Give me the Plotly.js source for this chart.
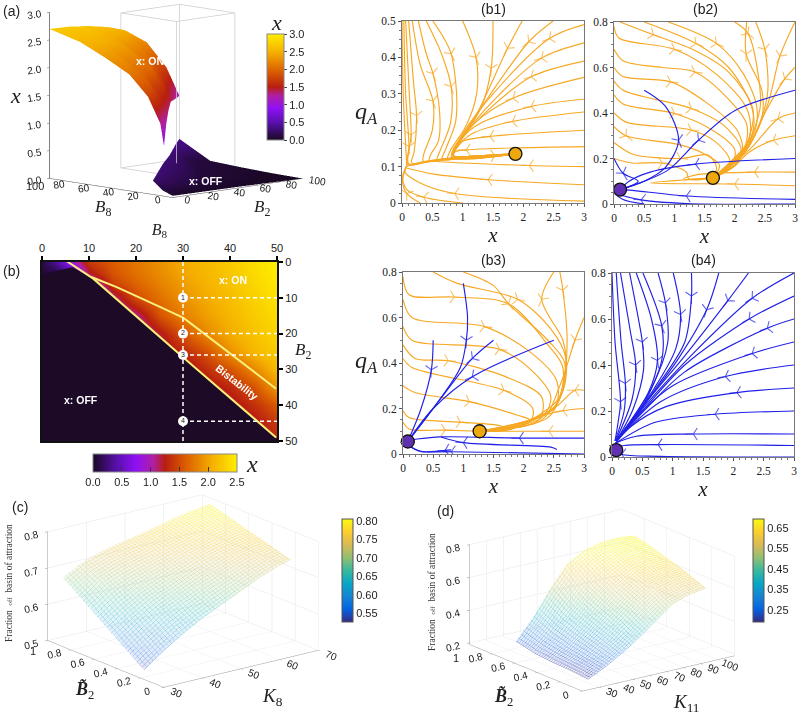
<!DOCTYPE html>
<html><head><meta charset="utf-8">
<script src="https://cdn.plot.ly/plotly-3.0.1.min.js"></script>
<style>html,body{margin:0;padding:0;background:#fff}#g{width:800px;height:716px}</style></head>
<body><div id="g"></div>
<script>
// ---------- panel (a) data ----------
const onB8=[7,10,20,35,55,75,100, 100,100,100,100,100,100,100, 20,35,50,65,80, 30,50,50,75,75,75,60,90,90];
const onB2=[0,0,0,0,0,0,0, 15,30,45,58,75,90,100, 14,30,46,62,79, 10,10,25,15,35,55,40,40,70];
const onX=[.9,1.3,1.75,2.1,2.34,2.55,2.7, 2.69,2.65,2.58,2.48,2.2,1.7,1.15, 1.2,1.35,1.4,1.35,1.25, 1.9,2.25,2.0,2.5,2.35,1.95,2.0,2.45,1.95];
const offB8=[0,8,16,0,100,30,50,70,90,10,30,50,75,25,50,85,0,50,75,25];
const offB2=[0,0,0,100,100,17,40,64,88,30,50,65,85,35,55,95,50,100,100,100];
const offX=[.03,.1,.25,0,.37,.28,.3,.3,.36,.05,.08,.1,.12,.15,.2,.25,.02,.03,.06,.01];
const boxB2=[55,100,100,55,55,55,100,100,55,55,55,55,100,100,100,100];
const boxB8=[55,55,100,100,55,55,55,100,100,55,100,100,100,100,55,55];
const boxZ=[0,0,0,0,0,2.8,2.8,2.8,2.8,2.8,2.8,0,0,2.8,2.8,0];
// ---------- panel (b) data ----------
const heatB8=[0,3,6,10,15,20,25,30,35,40,45,50];
const heatB2=[0,3,6,10,15,20,25,30,35,40,45,50];
const heatX=[
[.1,.35,.8,1.4,1.6,1.75,1.9,2.05,2.15,2.25,2.38,2.5],
[.05,.08,.25,1.2,1.55,1.72,1.87,2.02,2.13,2.23,2.36,2.48],
[.05,.05,.05,.8,1.45,1.65,1.82,1.97,2.1,2.2,2.33,2.45],
[.05,.05,.05,.05,1.05,1.5,1.72,1.9,2.05,2.17,2.3,2.42],
[.05,.05,.05,.05,.9,1.05,1.55,1.8,1.98,2.12,2.25,2.37],
[.05,.05,.05,.05,.9,.9,1.2,1.55,1.85,2.05,2.2,2.32],
[.05,.05,.05,.05,.9,.9,1.05,1.3,1.55,1.9,2.12,2.27],
[.05,.05,.05,.05,.9,.9,1.0,1.1,1.35,1.55,1.85,2.15],
[.05,.05,.05,.05,.9,.9,1.0,1.1,1.15,1.3,1.55,1.95],
[.05,.05,.05,.05,.9,.9,1.0,1.1,1.15,1.15,1.35,1.6],
[.05,.05,.05,.05,.9,.9,1.0,1.1,1.15,1.15,1.2,1.4],
[.05,.05,.05,.05,.9,.9,1.0,1.1,1.15,1.15,1.2,1.3]];
const offEdgeB8=[6.5,10.9,30.8,50,50,0,0,3];
const offEdgeB2=[1.5,4.65,27.5,49.4,50,50,4,2.5];
const lowerB8=[4.5,10.9,30.8,49.8];
const lowerB2=[-.9,4.65,27.5,49];
const upperB8=[10.5,15.9,24.4,30,32.2,49.8];
const upperB2=[4.2,7,12.1,15.5,17.7,35.4];
const dashV=[[30,30],[0,50]];
const dashH=[[[30,50],[10,10]],[[30,50],[20,20]],[[30,50],[26,26]],[[30,50],[44.5,44.5]]];
const markB8=[30,30,30,30];
const markB2=[10,20,26,44.5];
const markText=['1','2','3','4'];
// ---------- streamlines: [arrowPointIndex, x0,y0, x1,y1, ...] ----------
const b1Orange=[
[-1,0,.5,.02,.3,.06,.16,.08,.1],
[2,.03,.5,.06,.3,.115,.155,.1,.105,.4,.113,.9,.125,1.87,.135],
[2,.06,.5,.12,.3,.15,.187,.11,.108,.45,.114,.9,.125,1.87,.135],
[2,.11,.5,.19,.33,.24,.24,.2,.14,.16,.11,.5,.115,.9,.125,1.87,.135],
[2,.17,.5,.3,.38,.51,.28,.5,.2,.36,.135,.35,.115,.6,.117,.9,.125,1.87,.135],
[2,.27,.5,.4,.41,.51,.356,.62,.25,.6,.17,.48,.135,.45,.115,.7,.118,1.87,.135],
[2,.4,.5,.65,.41,.81,.32,.8,.22,.62,.14,.58,.12,.8,.12,1.87,.135],
[2,.51,.5,.7,.45,.81,.41,.9,.3,.88,.22,.7,.14,.66,.12,.9,.122,1.87,.135],
[1,1,.5,1.22,.4,1.23,.3,1.05,.21,.8,.145,.75,.12,.9,.123,1.87,.135],
[1,1.5,.5,1.47,.37,1.3,.26,1.05,.195,.85,.15,.82,.125,1.87,.135],
[1,1.98,.5,1.74,.425,1.25,.25,1,.18,.85,.14,.85,.125,1.87,.135],
[1,2.49,.5,2.09,.443,1.3,.26,.95,.17,.84,.13,1.87,.135],
[1,3,.49,2.43,.452,1.5,.3,1,.19,.85,.14,.86,.126,1.87,.135],
[1,3,.44,2.3,.398,1.5,.28,1,.18,.85,.13,1.87,.135],
[1,3,.39,2.13,.347,1.45,.26,1,.18,.85,.13,1.87,.135],
[1,3,.345,1.83,.288,1.2,.22,.9,.16,.85,.13,1.87,.135],
[1,3,.285,2.13,.265,1.2,.21,.9,.155,.85,.13,1.87,.135],
[1,3,.25,1.82,.224,1.15,.19,.9,.15,.85,.13,1.87,.135],
[1,3,.2,1.45,.183,1,.17,.88,.15,.85,.13,1.87,.135],
[1,3,.155,1.06,.146,.87,.14,.85,.128,1.87,.135],
[1,3,.1,2.1,.103,1,.11,.55,.114],
[1,3,.05,1.42,.064,.5,.08,.07,.096],
[1,3,.005,.87,.026,.3,.055,.05,.085,.07,.1],
[1,1,0,.36,.016,.08,.037,.01,.07,.07,.1],
[1,.3,0,.08,.026,.01,.06,.07,.1],
[3,.07,.1,.3,.112,.9,.125,1.53,.13,1.87,.135]];
const b2Orange=[
[1,.1,.8,.65,.744,1.3,.68,1.9,.58,2.3,.42,2.25,.3,2,.17,1.64,.115],
[1,.5,.8,1.36,.705,1.9,.6,2.25,.45,2.32,.35,2.15,.22,1.64,.115],
[1,.9,.8,1.7,.705,2.15,.57,2.37,.42,2.3,.3,1.64,.115],
[2,0,.78,.08,.73,1,.68,1.7,.57,2.2,.42,2.25,.3,2,.17,1.64,.115],
[3,0,.68,.15,.63,.8,.6,1.34,.58,1.9,.46,2.2,.35,2.15,.24,1.64,.115],
[2,0,.6,.15,.56,.94,.537,1.56,.44,2.05,.32,2.12,.22,1.64,.115],
[2,0,.54,.15,.5,1.28,.42,1.8,.35,2.1,.25,2.05,.18,1.64,.115],
[2,0,.48,.15,.44,1,.398,1.6,.33,2,.24,1.95,.17,1.64,.115],
[2,0,.4,.2,.36,1.28,.325,1.7,.27,1.92,.19,1.8,.14,1.64,.115],
[1,0,.34,.2,.3,1.1,.26,1.5,.22,1.75,.17,1.64,.115],
[2,0,.27,.3,.22,1.1,.2,1.56,.215,1.7,.16,1.64,.115],
[2,0,.2,.3,.18,.8,.18,1.2,.14,1.24,.11,1.64,.115],
[1,2,.8,2.22,.75,2.4,.55,2.42,.42,2.2,.26,1.64,.115],
[1,2.2,.8,2.19,.66,2.45,.5,2.45,.38,2.2,.25,1.64,.115],
[1,2.35,.8,2.5,.68,2.55,.5,2.45,.38,2.2,.24,1.64,.115],
[1,3,.8,2.75,.65,2.55,.44,2.2,.24,1.64,.115],
[1,3,.6,2.83,.55,2.5,.4,2.15,.22,1.64,.115],
[1,3,.4,2.72,.375,2.25,.24,1.64,.115],
[1,3,.3,2.64,.28,2.25,.23,2,.17,1.64,.115],
[1,3,.14,2.33,.14,1.4,.13,1.15,.11,1.64,.115],
[1,3,.08,2,.088,.6,.092,1.64,.115]];
const b2Blue=[
[2,.5,.5,.85,.43,1.07,.28,.85,.16,.5,.1,.1,.063],
[2,3,.5,2,.41,1.4,.28,.9,.15,.5,.1,.1,.063],
[1,3,.2,1.35,.175,.6,.14,.25,.1,.1,.063],
[1,0,.2,.15,.135,.4,.1,.1,.063],
[1,3,.02,1.2,.035,.3,.06,.1,.063],
[2,3,0,1.2,.002,.45,.018,.05,.05,.1,.063],
[-1,.5,0,.15,.02,.04,.045,.1,.063]];
const b3Orange=[
[2,.5,.8,.9,.75,1.9,.68,2.45,.55,2.7,.42,2.6,.25,1.8,.11,1.27,.1],
[2,1,.8,1.5,.74,1.75,.66,2.4,.5,2.68,.4,2.55,.22,1.8,.11,1.27,.1],
[2,0,.78,.1,.7,.85,.69,1.75,.66,2.4,.48,2.65,.38,2.5,.2,1.27,.1],
[2,0,.68,.15,.6,1.35,.56,2.1,.45,2.55,.32,2.5,.2,1.27,.1],
[2,0,.56,.15,.5,1.6,.46,2.2,.35,2.45,.25,2.3,.16,1.27,.1],
[2,0,.48,.2,.42,.75,.41,1.7,.34,2.3,.25,2.25,.15,1.27,.1],
[2,0,.42,.15,.38,1.67,.28,2.15,.2,2.1,.14,1.27,.1],
[2,0,.3,.2,.27,1.1,.23,1.9,.17,2.1,.15,1.27,.1],
[2,0,.19,.1,.16,.95,.14,1.6,.125,1.7,.11,1.27,.1],
[2,0,.14,.1,.11,.7,.105,1.27,.1],
[1,2.5,.8,2.3,.68,2.65,.5,2.7,.4,2.5,.2,1.27,.1],
[1,2.6,.8,2.65,.72,2.72,.5,2.65,.3,2.4,.16,1.27,.1],
[1,3,.1,2.42,.1,1.27,.1],
[1,3,.2,2.65,.19,2.2,.16,1.8,.12,1.27,.1],
[1,3,.28,2.85,.28,2.5,.2,1.8,.12,1.27,.1],
[1,3,.6,2.85,.5,2.6,.3,2.3,.15,1.27,.1]];
const b3Blue=[
[2,1,.75,1.07,.6,1.05,.5,.95,.38,.5,.2,.08,.055],
[1,1.5,.5,1.15,.42,.7,.27,.08,.055],
[1,2.5,.5,1.15,.34,.5,.2,.08,.055],
[1,.5,.5,.47,.37,.3,.2,.08,.055],
[1,3,.07,1.93,.07,.6,.075,.08,.06],
[2,2.55,.02,2.45,.03,1,.05,.63,.075],
[1,3,0,.8,.01,.3,.012,.08,.04],
[1,.8,.018,.7,.016,.3,.01,.08,.04]];
const b4Blue=[
[2,0,.8,.05,.5,.14,.24,.1,.15,.05,.07],
[2,.07,.8,.15,.5,.22,.32,.2,.2,.05,.07],
[2,.14,.8,.3,.55,.39,.4,.33,.25,.06,.07],
[2,.29,.8,.45,.58,.5,.5,.52,.38,.35,.21,.07,.07],
[2,.4,.8,.65,.6,.75,.42,.6,.28,.07,.07],
[1,.51,.8,.82,.57,.82,.42,.5,.22,.07,.07],
[1,.76,.8,.88,.67,.92,.5,.65,.3,.07,.07],
[1,1.01,.8,1.13,.62,1.05,.47,.7,.3,.07,.07],
[1,1.31,.8,1.31,.7,1.2,.5,.75,.31,.07,.07],
[1,1.76,.8,1.56,.64,1.1,.43,.6,.25,.07,.07],
[1,2.25,.8,1.91,.68,1.2,.44,.6,.25,.07,.07],
[1,3,.8,2.31,.69,1.3,.44,.6,.24,.07,.07],
[1,3,.7,2.26,.6,1.2,.4,.6,.23,.07,.07],
[1,3,.6,2.56,.56,1.2,.37,.6,.22,.07,.07],
[1,3,.5,2.31,.45,1,.31,.5,.2,.07,.07],
[1,3,.4,1.87,.35,.8,.24,.07,.07],
[1,3,.3,2.06,.28,.9,.22,.3,.13,.06,.06],
[1,3,.2,1.7,.186,.7,.15,.06,.06],
[1,3,.1,1.34,.1,.4,.09,.05,.06],
[1,3,.05,.76,.054,.2,.05,.05,.04],
[2,3,0,.8,.003,.16,.012,.07,.03]];
const b1Nodes={on:[1.87,.135],off:null}, b2Nodes={on:[1.64,.115],off:[.1,.063]}, b3Nodes={on:[1.27,.1],off:[.08,.055]}, b4Nodes={on:null,off:[.07,.03]};
// ---------- panels (c), (d) data ----------
const cK8=[30,35,40,45,50,55,60,65,68];
const cB2=[.17,.345,.52,.695,.87];
const cZ=[
[.526,.565,.60,.63,.655,.68,.705,.725,.734],
[.567,.605,.64,.665,.69,.71,.73,.745,.75],
[.608,.645,.675,.695,.715,.735,.75,.76,.765],
[.65,.69,.71,.725,.74,.755,.77,.78,.782],
[.69,.72,.738,.75,.76,.772,.785,.793,.797]];
const dK11=[30,40,50,60,70,80,90,100];
const dB2=[.1,.26,.42,.58,.74];
const dZ=[
[.21,.26,.32,.39,.47,.55,.585,.60],
[.22,.28,.36,.45,.54,.61,.635,.645],
[.225,.30,.40,.50,.59,.65,.675,.68],
[.235,.33,.45,.56,.65,.70,.715,.715],
[.26,.38,.53,.66,.72,.745,.75,.74]];

const W=800,H=716;
const dx=(a,b)=>[a/W,b/W], dy=(a,b)=>[1-b/H,1-a/H];
const fire=[[0,'#190824'],[.17,'#5a10b0'],[.3,'#9010f5'],[.42,'#b020a0'],[.5,'#b81e10'],[.65,'#dc6000'],[.83,'#f5b000'],[1,'#ffee00']];
const parula=[[0,'#352A87'],[.125,'#0363E1'],[.25,'#1485D4'],[.375,'#06A7C6'],[.5,'#38B99E'],[.625,'#92BF73'],[.75,'#D9BA56'],[.875,'#FCCE2E'],[1,'#F9FB0E']];
const parulaPale=[[0,'#8f89c5'],[.125,'#7aa8ee'],[.25,'#82bce6'],[.375,'#7dd0e0'],[.5,'#93d8c8'],[.625,'#c2dcac'],[.75,'#e8d89f'],[.875,'#f9e082'],[1,'#f8f97a']];
const ORANGE='#f7a823',BLUE='#2020e8',SANS='Liberation Sans, Arial, sans-serif',SERIF='Liberation Serif, Times New Roman, serif';
const traces=[];
const layout={width:W,height:H,margin:{l:0,r:0,t:0,b:0},paper_bgcolor:'#fff',plot_bgcolor:'rgba(0,0,0,0)',showlegend:false,annotations:[]};
const note=(t,xp,yp,o={})=>layout.annotations.push(Object.assign({text:t,xref:'paper',yref:'paper',x:xp/W,y:1-yp/H,xanchor:'center',yanchor:'middle',showarrow:false,font:{family:SANS,size:13,color:'#222'}},o));

function streams(list,color,xa,ya){
  list.forEach(s=>{
    const xs=[],ys=[],sz=[];
    for(let i=1;i<s.length;i+=2){xs.push(s[i]);ys.push(s[i+1]);sz.push((i-1)/2===s[0]?10:0);}
    traces.push({type:'scatter',mode:'lines+markers',x:xs,y:ys,xaxis:xa,yaxis:ya,cliponaxis:true,
      line:{color,width:1.15,shape:'spline',smoothing:.9},
      marker:{symbol:'y-up-open',size:sz,angleref:'previous',angle:0,color,line:{color,width:1.1}},hoverinfo:'skip'});
  });
}
function node(p,color,xa,ya){ if(!p)return;
  traces.push({type:'scatter',mode:'markers',x:[p[0]],y:[p[1]],xaxis:xa,yaxis:ya,cliponaxis:false,
    marker:{size:13,color,line:{color:'#111',width:1.3}},hoverinfo:'skip'});
}
function streamAxes(n,xd,yd,ymax,dt){
  const base={showline:true,mirror:true,linecolor:'#777',linewidth:1,ticks:'outside',ticklen:3,tickcolor:'#555',zeroline:false,showgrid:false,
    tickfont:{family:SERIF,size:11.5,color:'#222'}};
  layout['xaxis'+n]=Object.assign({},base,{domain:dx(...xd),anchor:'y'+n,range:[0,3],dtick:.5,minor:{ticks:'outside',ticklen:2,dtick:.1,tickcolor:'#777'},
    title:{text:'<i>x</i>',font:{family:SERIF,size:21,color:'#222'},standoff:1}});
  layout['yaxis'+n]=Object.assign({},base,{domain:dy(...yd),anchor:'x'+n,range:[0,ymax],dtick:dt,minor:{ticks:'outside',ticklen:2,dtick:dt/4,tickcolor:'#777'}});
}
streamAxes(2,[402,584],[21,203],.5,.1);
streamAxes(3,[614,795],[22,204],.8,.2);
streamAxes(4,[403,584],[272,454],.8,.2);
streamAxes(5,[612,794],[273,457],.8,.2);
streams(b1Orange,ORANGE,'x2','y2');node(b1Nodes.on,'#eda80e','x2','y2');
streams(b2Orange,ORANGE,'x3','y3');streams(b2Blue,BLUE,'x3','y3');node(b2Nodes.on,'#eda80e','x3','y3');node(b2Nodes.off,'#6030b0','x3','y3');
streams(b3Orange,ORANGE,'x4','y4');streams(b3Blue,BLUE,'x4','y4');node(b3Nodes.on,'#eda80e','x4','y4');node(b3Nodes.off,'#6030b0','x4','y4');
streams(b4Blue,BLUE,'x5','y5');node(b4Nodes.off,'#6030b0','x5','y5');

// panel (b)
layout.xaxis={domain:dx(42,277),anchor:'y',side:'top',range:[0,50],dtick:10,ticks:'outside',ticklen:4,tickwidth:2,tickcolor:'#000',showline:true,mirror:true,linewidth:2,linecolor:'#111',showgrid:false,zeroline:false,
  tickfont:{family:SANS,size:11,color:'#222'},title:{text:'<i>B</i><sub>8</sub>',font:{family:SERIF,size:16,color:'#222'},standoff:2}};
layout.yaxis={domain:dy(262,441),anchor:'x',side:'right',range:[50,0],dtick:10,ticks:'outside',ticklen:4,tickwidth:2,tickcolor:'#000',showline:true,mirror:true,linewidth:2,linecolor:'#111',showgrid:false,zeroline:false,
  tickfont:{family:SANS,size:11,color:'#222'}};
traces.push({type:'heatmap',x:heatB8,y:heatB2,z:heatX,zsmooth:'best',colorscale:fire,zmin:0,zmax:2.5,hoverinfo:'skip',
  colorbar:{orientation:'h',x:165/W,xanchor:'center',y:1-454/H,yanchor:'top',xpad:0,ypad:0,lenmode:'pixels',len:144,thicknessmode:'pixels',thickness:18,outlinecolor:'#888',outlinewidth:1,
    tickvals:[0,.5,1,1.5,2,2.5],ticktext:['0.0','0.5','1.0','1.5','2.0','2.5'],ticks:'inside',ticklen:5,tickcolor:'#333',tickfont:{family:SANS,size:11,color:'#222'}}});
traces.push({type:'scatter',mode:'lines',x:offEdgeB8,y:offEdgeB2,fill:'toself',fillcolor:'#1c0a26',line:{width:0},hoverinfo:'skip'});
traces.push({type:'scatter',mode:'lines',x:lowerB8,y:lowerB2,cliponaxis:false,line:{color:'#fdf07a',width:2},hoverinfo:'skip'});
traces.push({type:'scatter',mode:'lines',x:upperB8,y:upperB2,line:{color:'#fdf07a',width:2},hoverinfo:'skip'});
traces.push({type:'scatter',mode:'lines',x:dashV[0],y:dashV[1],line:{color:'#fff',width:1.5,dash:'4px,3px'},hoverinfo:'skip'});
dashH.forEach(d=>traces.push({type:'scatter',mode:'lines',x:d[0],y:d[1],line:{color:'#fff',width:1.5,dash:'4px,3px'},hoverinfo:'skip'}));
traces.push({type:'scatter',mode:'markers+text',x:markB8,y:markB2,text:markText,textposition:'middle center',textfont:{family:SANS,size:7,color:'#222'},marker:{size:10,color:'#fff'},hoverinfo:'skip'});

// panel (a)
const sceneAxis=(o)=>Object.assign({showbackground:false,showgrid:false,zeroline:false,showspikes:false,showline:true,linecolor:'#555',ticks:'outside',ticklen:3,tickcolor:'#555',title:{text:''},tickfont:{family:SANS,size:11,color:'#222'}},o);
const flat={ambient:1,diffuse:0,specular:0,roughness:1,fresnel:0};
traces.push({type:'mesh3d',scene:'scene',x:onB2,y:onB8,z:onX,intensity:onX,colorscale:fire,cmin:0,cmax:3,lighting:flat,hoverinfo:'skip',
  colorbar:{x:267/W,xanchor:'left',y:1-34/H,yanchor:'top',xpad:0,ypad:0,lenmode:'pixels',len:106,thicknessmode:'pixels',thickness:17,outlinecolor:'#888',outlinewidth:1,
   tickvals:[0,.5,1,1.5,2,2.5,3],ticktext:['0.0','0.5','1.0','1.5','2.0','2.5','3.0'],ticks:'outside',ticklen:3,tickfont:{family:SANS,size:11,color:'#222'}}});
traces.push({type:'mesh3d',scene:'scene',x:offB2,y:offB8,z:offX,intensity:offX,colorscale:fire,cmin:0,cmax:3,lighting:flat,showscale:false,hoverinfo:'skip'});
traces.push({type:'scatter3d',scene:'scene',mode:'lines',x:boxB2,y:boxB8,z:boxZ,line:{color:'#ccc',width:1.5},hoverinfo:'skip'});
function cam(e,s,shift){return {projection:{type:'orthographic'},up:{x:0,y:0,z:1},center:{x:0,y:0,z:shift||0},eye:{x:e[0]*s,y:e[1]*s,z:e[2]*s+(shift||0)}};}
layout.scene={domain:{x:dx(0,352),y:dy(0,224)},aspectmode:'manual',aspectratio:{x:1.62,y:1.58,z:1.5},camera:cam([-.689,-.709,.151],1.8,-.15),
  xaxis:sceneAxis({range:[0,100],dtick:20}),yaxis:sceneAxis({range:[0,100],tickvals:[0,20,40,60,80]}),zaxis:sceneAxis({range:[0,3],dtick:.5,tickformat:'.1f',linecolor:'#000'})};

// panels (c), (d)
function meshSurface(sc,x,y,z,cmin,cmax,cb,xs,ys){
  traces.push({type:'surface',scene:sc,x,y,z,colorscale:parulaPale,cmin,cmax,opacity:.22,lighting:flat,hoverinfo:'skip',showscale:false,
    contours:{x:Object.assign({show:true,usecolormap:true,width:1},xs),y:Object.assign({show:true,usecolormap:true,width:1},ys),z:{show:false}}});
  traces.push({type:'scatter3d',scene:sc,mode:'markers',x:[x[0],x[0]],y:[y[0],y[0]],z:[z[0][0],z[0][0]],hoverinfo:'skip',
    marker:{size:1,opacity:0,color:[cmin,cmax],colorscale:parula,cmin,cmax,showscale:true,colorbar:cb}});
}
const cbar=(xp,vals)=>({x:xp/W,xanchor:'left',y:1-519/H,yanchor:'top',xpad:0,ypad:0,lenmode:'pixels',len:103,thicknessmode:'pixels',thickness:11,outlinecolor:'#555',outlinewidth:1,ticks:'',tickvals:vals,ticktext:vals.map(v=>v.toFixed(2)),tickfont:{family:SANS,size:11,color:'#222'}});
meshSurface('scene2',cK8,cB2,cZ,.527,.805,cbar(342,[.55,.6,.65,.7,.75,.8]),{start:30,end:68,size:.8},{start:.17,end:.87,size:.02});
meshSurface('scene3',dK11,dB2,dZ,.19,.695,cbar(753,[.25,.35,.45,.55,.65]),{start:30,end:100,size:1.5},{start:.1,end:.74,size:.018});
const grid={showgrid:true,gridcolor:'#e6e6e6',linecolor:'#999',tickcolor:'#888'};
layout.scene2={domain:{x:dx(0,366),y:dy(490,700)},aspectmode:'manual',aspectratio:{x:1.86,y:1.81,z:1.09},camera:cam([-.58,-.754,.311],1.8,-.04),
  xaxis:sceneAxis(Object.assign({range:[30,70],dtick:10},grid)),yaxis:sceneAxis(Object.assign({range:[0,1],tickvals:[0,.2,.4,.6,.8]},grid)),zaxis:sceneAxis(Object.assign({range:[.5,.8],dtick:.1},grid))};
layout.scene3={domain:{x:dx(440,764),y:dy(505,705)},aspectmode:'manual',aspectratio:{x:1.9,y:1.88,z:1.05},camera:cam([-.57,-.76,.31],1.8,-.05),
  xaxis:sceneAxis(Object.assign({range:[20,110],tickvals:[30,40,50,60,70,80,90,100]},grid)),yaxis:sceneAxis(Object.assign({range:[0,1],tickvals:[0,.2,.4,.6,.8]},grid)),zaxis:sceneAxis(Object.assign({range:[.19,.8],tickvals:[.2,.4,.6,.8]},grid))};

// text
const lab={font:{family:SANS,size:14,color:'#222'}};
note('(a)',11,11,lab);note('(b)',11,271,lab);note('(c)',20,507,lab);note('(d)',445,511,lab);
['(b1)',493,9,'(b2)',705,9,'(b3)',493,260,'(b4)',703,260].forEach((v,i,a)=>{if(i%3===0)note(v,a[i+1],a[i+2],lab);});
const math=(s)=>({font:{family:SERIF,size:s,color:'#222'}});
const tickNote={font:{family:SANS,size:11,color:'#222'}};
note('100',35,186,tickNote);note('1',33,651,tickNote);note('1',456,658,tickNote);
note('<i>x</i>',15,95,math(22));note('<i>B</i><sub>8</sub>',103,208,math(17));note('<i>B</i><sub>2</sub>',262,208,math(17));note('<i>x</i>',276,23,math(22));
note('<i>B</i><sub>2</sub>',303,351,math(17));note('<i>x</i>',252,464,math(24));
note('<i>q</i><sub><i>A</i></sub>',366,113,math(24));note('<i>q</i><sub><i>A</i></sub>',366,362,math(24));
const bw=(s)=>({font:{family:SANS,size:s,color:'#fff'}});
note('<b>x: ON</b>',150,61,bw(10.5));note('<b>x: OFF</b>',206,181,bw(10.5));
note('<b>x: ON</b>',233,280,bw(10.5));note('<b>x: OFF</b>',81,400,bw(10.5));
note('<b>Bistability</b>',237,382,Object.assign(bw(10.5),{textangle:38}));
const fr="Fraction&nbsp;&nbsp;<span style='font-size:7px'>off</span>&nbsp;&nbsp;basin of attraction";
note(fr,9,583,{font:{family:SERIF,size:9.5,color:'#333'},textangle:-90});
note(fr,432,592,{font:{family:SERIF,size:9.5,color:'#333'},textangle:-90});
note('<b><i>B&#771;</i></b><sub>2</sub>',84,690,math(18));note('<i>K</i><sub>8</sub>',272,697,math(19));
note('<b><i>B&#771;</i></b><sub>2</sub>',503,697,math(18));note('<i>K</i><sub>11</sub>',686,703,math(19));

Plotly.newPlot('g',traces,layout,{displayModeBar:false,responsive:false});
</script></body></html>
